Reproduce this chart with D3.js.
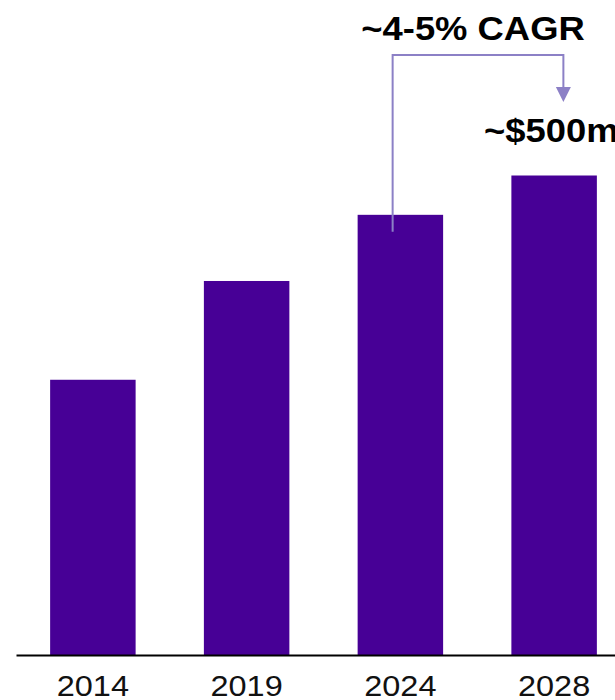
<!DOCTYPE html>
<html>
<head>
<meta charset="utf-8">
<script src="https://cdn.jsdelivr.net/npm/d3@7"></script>
<style>
  html, body { margin: 0; padding: 0; background: #fff; }
  svg { display: block; font-family: "Liberation Sans", Arial, sans-serif; }
</style>
</head>
<body>
<svg id="chart" width="615" height="700"></svg>
<script>
// Market size by year (US$ m)
const years = ["2014", "2019", "2024", "2028"];
const values = [287, 390, 459, 500];
const growthLabel = "~4-5% CAGR";
const endLabel = "~$500m";

const svg = d3.select("#chart");
const baseY = 655;
const stretch = 1.12; // horizontal stretch applied to all text

const x = d3.scaleBand()
  .domain(years)
  .range([16, 631])
  .paddingInner(0.444)
  .paddingOuter(0.222);

const y = d3.scaleLinear()
  .domain([0, 500])
  .range([baseY, 175.5]);

// Bars
svg.append("g")
  .selectAll("rect")
  .data(years.map((yr, i) => ({ yr, v: values[i] })))
  .join("rect")
  .attr("x", d => x(d.yr))
  .attr("y", d => y(d.v))
  .attr("width", x.bandwidth())
  .attr("height", d => baseY - y(d.v))
  .attr("fill", "#470096");

// Baseline axis with year labels
const axis = svg.append("g")
  .attr("transform", `translate(0,${baseY})`)
  .call(d3.axisBottom(x).tickSize(0).tickSizeOuter(0));
axis.select(".domain").attr("stroke", "#000").attr("stroke-width", 2);
axis.selectAll(".tick text")
  .attr("y", null)
  .attr("dy", null)
  .attr("transform", `translate(0,40.5) scale(1.1,1)`)
  .attr("font-size", 29.5)
  .attr("font-family", "'Liberation Sans', Arial, sans-serif")
  .attr("fill", "#111");

// Growth connector from 2024 bar to 2028 bar
const i24 = years.indexOf("2024");
const i28 = years.indexOf("2028");
const lx = x(years[i24]) + 35;
const rx = x(years[i28]) + 52;
const topY = 55;
const startY = y(values[i24]) + 17;
const tipY = 102;
const headH = 15, headW = 7.5;
const lineColor = "#8c80c6";

svg.append("path")
  .attr("d", `M${lx},${startY} V${topY} H${rx} V${tipY - headH}`)
  .attr("fill", "none")
  .attr("stroke", lineColor)
  .attr("stroke-width", 2);

svg.append("path")
  .attr("d", `M${rx - headW},${tipY - headH} L${rx + headW},${tipY - headH} L${rx},${tipY} Z`)
  .attr("fill", lineColor);

// Annotations
svg.append("text")
  .attr("transform", `translate(473,40) scale(${stretch},1)`)
  .attr("text-anchor", "middle")
  .attr("font-size", 32.5)
  .attr("font-weight", "bold")
  .attr("fill", "#000")
  .text(growthLabel);

svg.append("text")
  .attr("transform", `translate(484,142) scale(${stretch},1)`)
  .attr("text-anchor", "start")
  .attr("font-size", 32.5)
  .attr("font-weight", "bold")
  .attr("fill", "#000")
  .text(endLabel);
</script>
</body>
</html>
